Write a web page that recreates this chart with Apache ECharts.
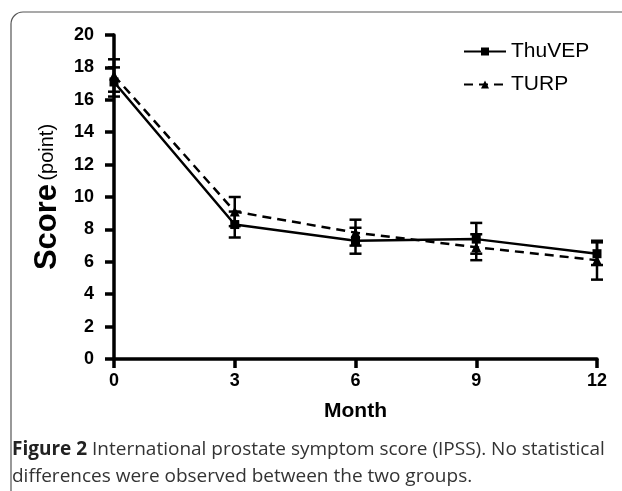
<!DOCTYPE html>
<html>
<head>
<meta charset="utf-8">
<script src="https://cdn.jsdelivr.net/npm/echarts@6/dist/echarts.min.js"></script>
<style>
html,body{margin:0;padding:0;background:#fff;}
#chart{width:622px;height:491px;}
</style>
</head>
<body>
<div id="chart"></div>
<script>
var months = [0, 3, 6, 9, 12];
var xTicks = ['0', '3', '6', '9', '12'];
var yTicks = ['0', '2', '4', '6', '8', '10', '12', '14', '16', '18', '20'];
var seriesNames = ['ThuVEP', 'TURP'];
var thuvepMean = [17.1, 8.3, 7.3, 7.4, 6.5];
var thuvepLow  = [16.2, 7.5, 6.5, 6.5, 5.8];
var thuvepHigh = [18.0, 9.1, 8.1, 8.4, 7.3];
var turpMean = [17.5, 9.1, 7.8, 6.9, 6.1];
var turpLow  = [16.5, 8.2, 7.0, 6.1, 4.9];
var turpHigh = [18.5, 10.0, 8.6, 7.7, 7.2];
var captionBold = 'Figure 2';
var captionLine1 = ' International prostate symptom score (IPSS). No statistical';
var captionLine2 = 'differences were observed between the two groups.';

function pairs(xs, ys) { return xs.map(function (x, i) { return [x, ys[i]]; }); }
function triples(xs, lo, hi) { return xs.map(function (x, i) { return [x, lo[i], hi[i]]; }); }

function errRender(params, api) {
  var x = api.value(0);
  var lo = api.coord([x, api.value(1)]);
  var hi = api.coord([x, api.value(2)]);
  var w = 6;
  var st = { stroke: '#000', lineWidth: 2.5 };
  return {
    type: 'group',
    children: [
      { type: 'line', shape: { x1: lo[0], y1: lo[1], x2: hi[0], y2: hi[1] }, style: st },
      { type: 'line', shape: { x1: lo[0] - w, y1: lo[1], x2: lo[0] + w, y2: lo[1] }, style: st },
      { type: 'line', shape: { x1: hi[0] - w, y1: hi[1], x2: hi[0] + w, y2: hi[1] }, style: st }
    ]
  };
}

var chart = echarts.init(document.getElementById('chart'), null, { renderer: 'canvas' });
var axisFont = { fontFamily: 'Liberation Sans', fontWeight: 'bold', fontSize: 18, color: '#000' };
chart.setOption({
  backgroundColor: '#fff',
  animation: false,
  graphic: [
    { type: 'rect', shape: { x: 11, y: 12, width: 660, height: 560, r: 12 },
      style: { fill: 'none', stroke: '#555', lineWidth: 1.2 }, z: -1 }
  ],
  title: {
    left: 12, top: 436, padding: 0,
    text: '{b|' + captionBold + '}{n|' + captionLine1 + '}\n{n|' + captionLine2 + '}',
    textStyle: {
      rich: {
        b: { fontFamily: 'Open Sans', fontWeight: 'bold', fontSize: 19, color: '#222', lineHeight: 27 },
        n: { fontFamily: 'Open Sans', fontWeight: 'normal', fontSize: 19, color: '#333', lineHeight: 27 }
      }
    }
  },
  legend: {
    orient: 'vertical',
    left: 458, top: 36,
    itemWidth: 42, itemHeight: 10, itemGap: 12,
    textStyle: { fontFamily: 'Liberation Sans', fontSize: 21, color: '#000', padding: [0, 0, 0, 0] },
    data: seriesNames
  },
  grid: { left: 114, right: 25, top: 35, bottom: 132, containLabel: false },
  xAxis: {
    type: 'value', min: 0, max: 12, interval: 3,
    name: 'Month', nameLocation: 'middle', nameGap: 42,
    nameTextStyle: { fontFamily: 'Liberation Sans', fontWeight: 'bold', fontSize: 21, color: '#000' },
    axisLine: { lineStyle: { color: '#000', width: 3.5 } },
    axisTick: { inside: false, length: 9, lineStyle: { color: '#000', width: 3.5 } },
    axisLabel: Object.assign({ margin: 13, formatter: function (v) { return xTicks[months.indexOf(v)]; } }, axisFont),
    splitLine: { show: false }
  },
  yAxis: {
    type: 'value', min: 0, max: 20, interval: 2,
    name: '{a|Score} {b|(point)}', nameLocation: 'middle', nameGap: 50, nameRotate: 90,
    nameTextStyle: {
      rich: {
        a: { fontFamily: 'Liberation Sans', fontWeight: 'bold', fontSize: 31, color: '#000' },
        b: { fontFamily: 'Liberation Sans', fontWeight: 'normal', fontSize: 20, color: '#000' }
      }
    },
    axisLine: { show: true, lineStyle: { color: '#000', width: 3.5 } },
    axisTick: { show: true, inside: false, length: 9, lineStyle: { color: '#000', width: 3.5 } },
    axisLabel: Object.assign({ margin: 20, formatter: function (v) { return yTicks[v / 2]; } }, axisFont),
    splitLine: { show: false }
  },
  series: [
    { name: 'ThuVEP', type: 'line', data: pairs(months, thuvepMean),
      symbol: 'rect', symbolSize: 9, itemStyle: { color: '#000' },
      lineStyle: { color: '#000', width: 2.5, type: 'solid' }, z: 3 },
    { name: 'TURP', type: 'line', data: pairs(months, turpMean),
      symbol: 'triangle', symbolSize: 10, itemStyle: { color: '#000' },
      lineStyle: { color: '#000', width: 2.5, type: [9, 6] }, z: 3 },
    { name: 'ThuVEP-err', type: 'custom', renderItem: errRender, data: triples(months, thuvepLow, thuvepHigh), z: 2 },
    { name: 'TURP-err', type: 'custom', renderItem: errRender, data: triples(months, turpLow, turpHigh), z: 2 }
  ]
});
</script>
</body>
</html>
